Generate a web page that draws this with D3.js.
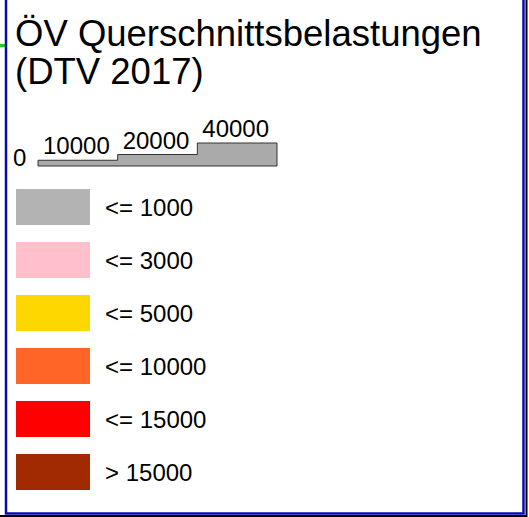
<!DOCTYPE html>
<html>
<head>
<meta charset="utf-8">
<script src="https://cdn.jsdelivr.net/npm/d3@7"></script>
<style>
  body { margin: 0; background: #fff; }
  text { font-family: "Liberation Sans", Arial, sans-serif; fill: #000; }
</style>
</head>
<body>
<svg id="chart" width="529" height="517"></svg>
<script>
// legend content
const titleLines = ["ÖV Querschnittsbelastungen", "(DTV 2017)"];
const widthValues = [10000, 20000, 40000];
const classLabels = ["<= 1000", "<= 3000", "<= 5000", "<= 10000", "<= 15000", "> 15000"];
const classColors = ["#b3b3b3", "#ffc0cb", "#ffd700", "#ff6526", "#ff0000", "#a22a00"];

const svg = d3.select("#chart");

// frame (top is cut off)
svg.append("rect").attr("x", 0).attr("y", 44).attr("width", 5).attr("height", 3).attr("fill", "#22cc22");
svg.append("path")
  .attr("d", "M6,0 V513.5 H523.5 V0")
  .attr("fill", "none").attr("stroke", "#0a0ab4").attr("stroke-width", 2.5);
svg.append("path")
  .attr("d", "M0,516 H526.5 V0")
  .attr("fill", "none").attr("stroke", "#000").attr("stroke-width", 2);

// title
svg.selectAll(".title")
  .data(titleLines)
  .enter().append("text")
  .attr("class", "title")
  .attr("x", 15)
  .attr("y", (d, i) => 46 + i * 38)
  .style("font-size", "36.5px")
  .text(d => d);

// line width scale
const x = d3.scaleLinear().domain([0, widthValues.length]).range([38, 277]);
const h = d3.scaleLinear().domain([0, 40000]).range([0, 23]);
const base = 166;

const pts = [[x(0), base]];
widthValues.forEach((v, i) => {
  pts.push([x(i), base - h(v)]);
  pts.push([x(i + 1), base - h(v)]);
});
pts.push([x(widthValues.length), base]);

svg.append("path")
  .datum(pts)
  .attr("d", d3.line().curve(d3.curveLinearClosed))
  .attr("fill", "#aaaaaa")
  .attr("stroke", "#333")
  .attr("stroke-width", 1);

svg.append("text")
  .attr("x", 13)
  .attr("y", base)
  .style("font-size", "24px")
  .text("0");

svg.selectAll(".wlabel")
  .data(widthValues)
  .enter().append("text")
  .attr("class", "wlabel")
  .attr("x", (d, i) => x(i) + 5)
  .attr("y", d => base - h(d) - 6)
  .style("font-size", "24px")
  .text(d => d);

// colour classes
const y = d3.scaleBand().domain(classLabels).range([189, 490]).paddingInner(0.32);

svg.selectAll(".swatch")
  .data(classLabels)
  .enter().append("rect")
  .attr("class", "swatch")
  .attr("x", 16)
  .attr("y", d => y(d))
  .attr("width", 74)
  .attr("height", y.bandwidth())
  .attr("fill", (d, i) => classColors[i]);

svg.selectAll(".clabel")
  .data(classLabels)
  .enter().append("text")
  .attr("class", "clabel")
  .attr("x", 105)
  .attr("y", d => y(d) + y.bandwidth() / 2 + 9)
  .style("font-size", "24px")
  .text(d => d);
</script>
</body>
</html>
